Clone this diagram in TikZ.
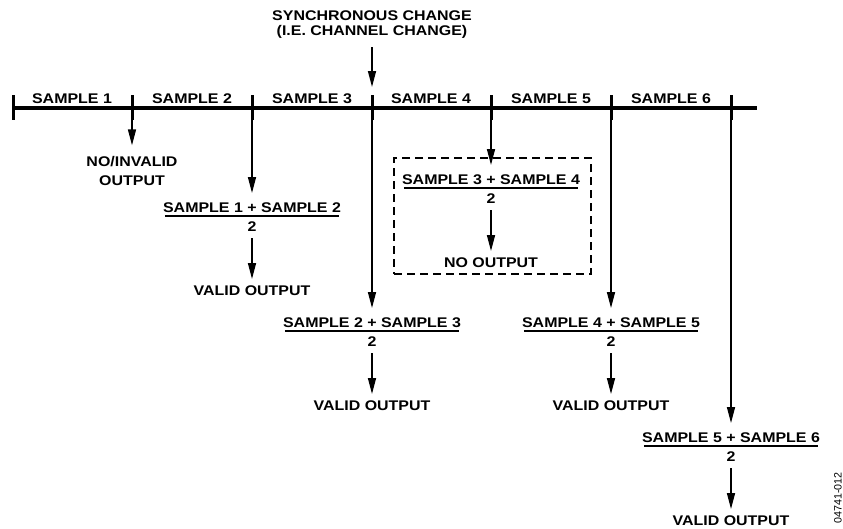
\documentclass[tikz,border=0pt]{standalone}
\usepackage{fontspec}
\setmainfont{Liberation Sans}[FakeStretch=1.14]
\newfontfamily\idfont{Liberation Sans}
\usetikzlibrary{arrows.meta}
\tikzset{
  lbl/.style={font=\fontsize{14}{19}\selectfont\bfseries, inner sep=0pt, anchor=base},
  lbltwo/.style={font=\fontsize{14}{19}\selectfont\bfseries, inner sep=0pt, align=center, anchor=south},
  axisline/.style={line width=3.2pt},
  tickmark/.style={line width=3pt},
  arr/.style={line width=1.5pt, -{Triangle[length=16pt,width=8pt]}},
  fracline/.style={line width=1.4pt},
  dashbox/.style={draw, line width=1.4pt, dash pattern=on 8pt off 5pt, inner sep=0pt,
                  minimum width=197pt, minimum height=116pt},
  idlabel/.style={font=\idfont\fontsize{10.7}{12}\selectfont, rotate=90, inner sep=0pt}
}
\begin{document}
\begin{tikzpicture}[x=1pt,y=-1pt]
\useasboundingbox (0,0) rectangle (843,528);

% timeline
\coordinate (L) at (12,108);
\coordinate (R) at (757,108);
\draw[axisline] (L) -- (R);
\coordinate (Ltop) at (13,95);
\coordinate (Lbot) at (13,120);
\draw[tickmark] (Ltop) -- (Lbot);
\foreach \i/\x in {1/132,2/252,3/372,4/491,5/611,6/731}{
  \coordinate (t\i) at (\x,95);
  \coordinate (b\i) at (\x,120);
  \draw[tickmark] (t\i) -- (b\i);
}
\foreach \i/\x in {1/72,2/192,3/312,4/431,5/551,6/671}{
  \node[lbl] (s\i) at (\x,103) {SAMPLE \i};
}

% synchronous change
\node[lbl] (sync1) at (372,20) {SYNCHRONOUS CHANGE};
\node[lbl] (sync2) at (372,35) {(I.E. CHANNEL CHANGE)};
\draw[arr] ([yshift=-12pt]sync2.base) -- ([yshift=8pt]t3);

% first output
\node[lbltwo] (noinv) at (132,186) {NO/INVALID\\OUTPUT};
\draw[arr] (b1) -- ([yshift=11pt]noinv.north);

% dashed box
\node[dashbox] (nobox) at (492.5,216) {};

% averaged outputs
\foreach \c/\x/\y/\a/\b/\o in {2/252/212/1/2/VALID OUTPUT,
                                3/372/327/2/3/VALID OUTPUT,
                                4/491/184/3/4/NO OUTPUT,
                                5/611/327/4/5/VALID OUTPUT,
                                6/731/442/5/6/VALID OUTPUT}{
  \node[lbl] (n\c) at (\x,\y) {SAMPLE \a{} + SAMPLE \b};
  \draw[fracline] ([xshift=2pt,yshift=-4pt]n\c.base west) -- ([xshift=-2pt,yshift=-4pt]n\c.base east);
  \node[lbl] (d\c) at (\x,\y+19) {2};
  \node[lbl] (v\c) at (\x,\y+83) {\o};
  \draw[arr] (b\c) -- ([yshift=9pt]n\c.north);
  \draw[arr] ([yshift=-7pt]d\c.base) -- ([yshift=6pt]v\c.north);
}

% figure id
\node[idlabel] (figid) at (838,498) {04741-012};
\end{tikzpicture}
\end{document}
